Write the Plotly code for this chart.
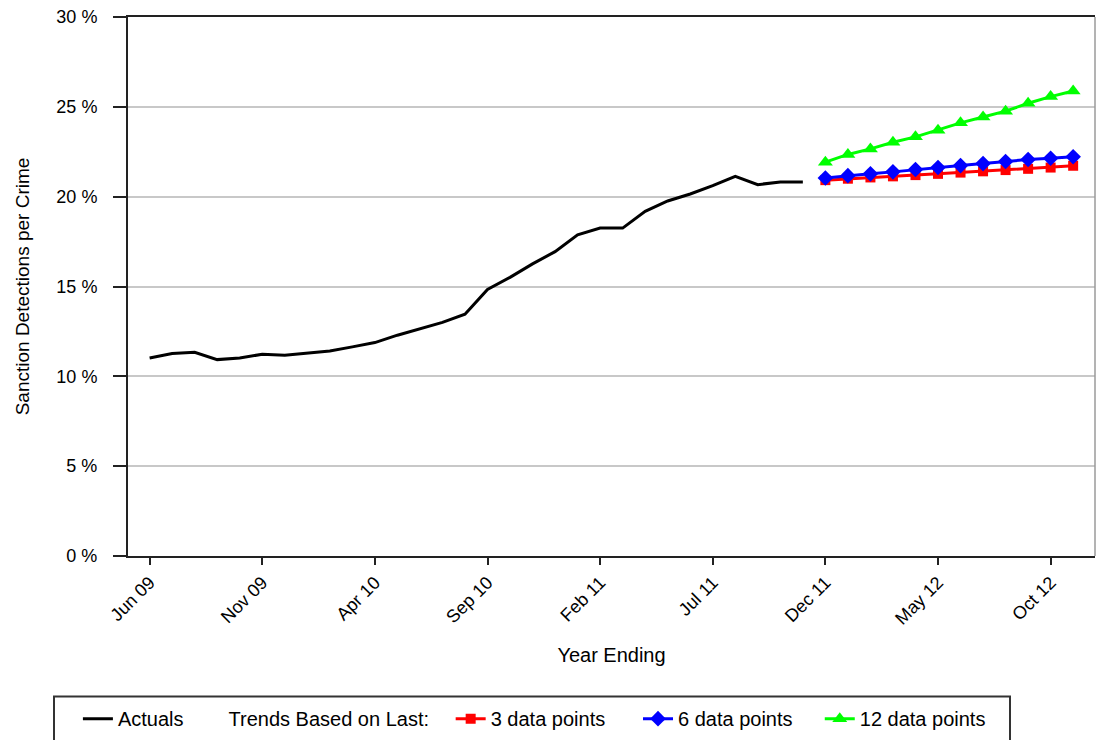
import plotly.graph_objects as go

months = ["Jun 09", "Jul 09", "Aug 09", "Sep 09", "Oct 09", "Nov 09", "Dec 09",
          "Jan 10", "Feb 10", "Mar 10", "Apr 10", "May 10", "Jun 10", "Jul 10",
          "Aug 10", "Sep 10", "Oct 10", "Nov 10", "Dec 10", "Jan 11", "Feb 11",
          "Mar 11", "Apr 11", "May 11", "Jun 11", "Jul 11", "Aug 11", "Sep 11",
          "Oct 11", "Nov 11", "Dec 11", "Jan 12", "Feb 12", "Mar 12", "Apr 12",
          "May 12", "Jun 12", "Jul 12", "Aug 12", "Sep 12", "Oct 12", "Nov 12"]

actual_months = months[:30]
trend_months = months[30:]

actuals = [11.02, 11.27, 11.34, 10.93, 11.02, 11.23, 11.17, 11.27, 11.41, 11.64,
           11.88, 12.29, 12.66, 13.00, 13.46, 14.84, 15.51, 16.26, 16.94, 17.88,
           18.25, 18.25, 19.18, 19.76, 20.15, 20.61, 21.13, 20.67, 20.82, 20.82]

trend_3 = [20.92, 21.00, 21.07, 21.13, 21.20, 21.27, 21.34, 21.41, 21.48, 21.55, 21.62, 21.72]
trend_6 = [21.04, 21.17, 21.27, 21.38, 21.51, 21.62, 21.73, 21.84, 21.96, 22.07, 22.14, 22.22]
trend_12 = [21.92, 22.35, 22.66, 23.03, 23.33, 23.70, 24.11, 24.43, 24.76, 25.20, 25.57, 25.88]

tick_months = ["Jun 09", "Nov 09", "Apr 10", "Sep 10", "Feb 11", "Jul 11", "Dec 11", "May 12", "Oct 12"]

FONT = "Liberation Sans, Arial, sans-serif"
NB = "\u00a0"

fig = go.Figure()
fig.add_trace(go.Scatter(x=actual_months, y=actuals, mode="lines", name="Actuals",
                         line=dict(color="black", width=3)))
fig.add_trace(go.Scatter(x=[None], y=[None], mode="lines", name="Trends Based on Last:" + NB * 3,
                         line=dict(color="rgba(0,0,0,0)", width=0)))
fig.add_trace(go.Scatter(x=trend_months, y=trend_3, mode="lines+markers", name="3 data points" + NB * 5,
                         line=dict(color="#ff0000", width=3),
                         marker=dict(symbol="square", size=10, color="#ff0000")))
fig.add_trace(go.Scatter(x=trend_months, y=trend_6, mode="lines+markers", name="6 data points" + NB * 4,
                         line=dict(color="#0000ff", width=3),
                         marker=dict(symbol="diamond", size=12, color="#0000ff")))
fig.add_trace(go.Scatter(x=trend_months, y=trend_12, mode="lines+markers", name="12 data points",
                         line=dict(color="#00ff00", width=3),
                         marker=dict(symbol="triangle-up", size=13, color="#00ff00")))

fig.update_layout(
    width=1096, height=740,
    margin=dict(l=128, r=1, t=17, b=184),
    paper_bgcolor="white", plot_bgcolor="white",
    font=dict(family=FONT, size=18, color="black"),
    showlegend=True,
    legend=dict(orientation="h", x=-0.0518, y=-0.2656, xanchor="left", yanchor="top",
                bgcolor="rgba(0,0,0,0)", font=dict(size=20, family=FONT, color="black"),
                itemwidth=30, traceorder="normal"),
    xaxis=dict(type="category", categoryorder="array", categoryarray=months,
               range=[-0.96, 41.97], tickmode="array", tickvals=tick_months,
               tickangle=-45, ticks="outside", ticklen=7, tickwidth=2, tickcolor="#222",
               showline=True, linecolor="#222", linewidth=2, mirror=True,
               showgrid=False, zeroline=False,
               tickfont=dict(size=18, family=FONT, color="black"),
               title=dict(text="Year Ending", font=dict(size=20, family=FONT, color="black"),
                          standoff=20)),
    yaxis=dict(range=[0, 30], tickmode="linear", tick0=0, dtick=5, ticksuffix=" %",
               ticks="outside", ticklen=13, tickwidth=2, tickcolor="#222",
               showline=True, linecolor="#222", linewidth=2,
               showgrid=True, gridcolor="#c8c8c8", gridwidth=1.5, zeroline=False,
               ticklabelstandoff=12,
               tickfont=dict(size=18, family=FONT, color="black"),
               title=dict(text="Sanction Detections per Crime",
                          font=dict(size=19, family=FONT, color="black"), standoff=22)),
    shapes=[
        dict(type="line", xref="paper", yref="paper", x0=1, x1=1, y0=0, y1=1,
             line=dict(color="#9a9a9a", width=1.5)),
        dict(type="rect", xref="paper", yref="paper",
             x0=(54 - 128) / 967, x1=(1010 - 128) / 967,
             y0=(555.7 - 696) / 538.7, y1=(555.7 - 760) / 538.7,
             line=dict(color="#333", width=2), fillcolor="rgba(0,0,0,0)", layer="above"),
    ],
)

fig.write_html("out.html", config={"displayModeBar": False},
               post_script="document.body.style.margin='0px';")
